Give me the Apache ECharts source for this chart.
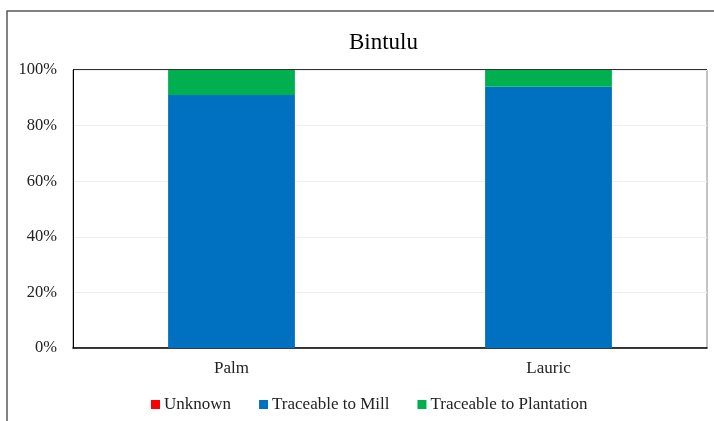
<!DOCTYPE html>
<html><head><meta charset="utf-8">
<script src="https://cdn.jsdelivr.net/npm/echarts@6/dist/echarts.min.js"></script>
<style>html,body{margin:0;padding:0;background:#fff}#c{width:714px;height:421px}</style>
</head><body><div id="c"></div>
<script>
const categories = ['Palm', 'Lauric'];
const unknown = [0, 0];
const mill = [91, 94];
const plantation = [9, 6];
const yTicks = [0, 20, 40, 60, 80, 100];

const font = 'Liberation Serif';
const chart = echarts.init(document.getElementById('c'));
chart.setOption({
  animation: false,
  textStyle: { fontFamily: font },
  title: { text: 'Bintulu', left: 344, top: 26, textStyle: { fontFamily: font, fontSize: 23, fontWeight: 'normal', color: '#000' } },
  grid: { left: 73, right: 7, top: 70, bottom: 73, containLabel: false, show: true, borderColor: '#888', borderWidth: 1 },
  legend: {
    bottom: 3, left: 146, itemWidth: 9, itemHeight: 9, itemGap: 28, icon: 'rect',
    textStyle: { fontFamily: font, fontSize: 17, color: '#222', padding: [0,0,0,-1] },
    data: ['Unknown', 'Traceable to Mill', 'Traceable to Plantation']
  },
  xAxis: {
    type: 'category', data: categories,
    axisLine: { lineStyle: { color: '#000', width: 1.5 } },
    axisTick: { show: false },
    axisLabel: { fontFamily: font, fontSize: 17, color: '#222', margin: 12 }
  },
  yAxis: {
    type: 'value', min: 0, max: 100, interval: 20,
    axisLine: { show: true, lineStyle: { color: '#000', width: 1 } },
    axisTick: { show: false },
    splitLine: { lineStyle: { color: '#eeeeee' } },
    axisLabel: { fontFamily: font, fontSize: 16.5, color: '#222', margin: 16,
      formatter: v => yTicks.includes(v) ? v + '%' : '' }
  },
  series: [
    { name: 'Unknown', type: 'bar', stack: 's', data: unknown, barWidth: '40%', itemStyle: { color: '#ff0000' } },
    { name: 'Traceable to Mill', type: 'bar', stack: 's', data: mill, barWidth: '40%', itemStyle: { color: '#0070c0' } },
    { name: 'Traceable to Plantation', type: 'bar', stack: 's', data: plantation, barWidth: '40%', itemStyle: { color: '#00b050' } }
  ],
  graphic: [
    { type: 'rect', shape: { x: 7, y: 11, width: 900, height: 600 }, style: { fill: 'none', stroke: '#595959', lineWidth: 1.5 }, silent: true },
    { type: 'line', shape: { x1: 73, y1: 70, x2: 707, y2: 70 }, style: { stroke: '#000', lineWidth: 1.5 }, silent: true }
  ]
});
</script></body></html>
